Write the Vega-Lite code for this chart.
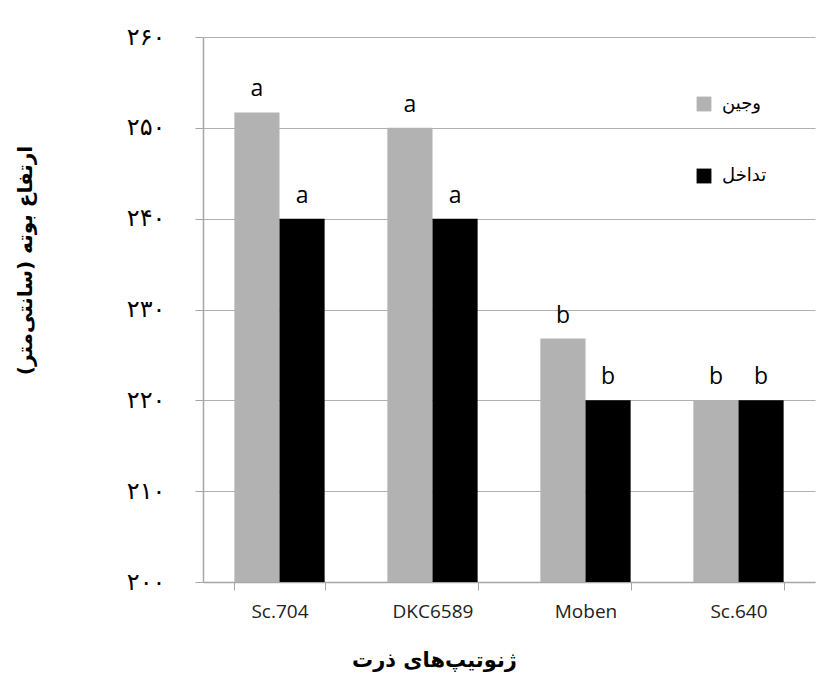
{
  "$schema": "https://vega.github.io/schema/vega-lite/v6.json",
  "autosize": {"type": "none"},
  "padding": {"left": 203, "top": 37, "right": 2, "bottom": 115},
  "width": 612,
  "height": 545,
  "background": "white",
  "config": {"view": {"stroke": null}},
  "data": {
    "values": [
      {"genotype": "Sc.704", "treatment": "وجین", "height": 251.7, "letter": "a"},
      {"genotype": "Sc.704", "treatment": "تداخل", "height": 240, "letter": "a"},
      {"genotype": "DKC6589", "treatment": "وجین", "height": 250, "letter": "a"},
      {"genotype": "DKC6589", "treatment": "تداخل", "height": 240, "letter": "a"},
      {"genotype": "Moben", "treatment": "وجین", "height": 226.8, "letter": "b"},
      {"genotype": "Moben", "treatment": "تداخل", "height": 220, "letter": "b"},
      {"genotype": "Sc.640", "treatment": "وجین", "height": 220, "letter": "b"},
      {"genotype": "Sc.640", "treatment": "تداخل", "height": 220, "letter": "b"}
    ]
  },
  "encoding": {
    "x": {
      "field": "genotype",
      "type": "nominal",
      "sort": ["Sc.704", "DKC6589", "Moben", "Sc.640"],
      "scale": {"paddingInner": 0.41, "paddingOuter": 0.205},
      "axis": {
        "title": "ژنوتیپ‌های ذرت",
        "titleFont": "DejaVu Sans",
        "titleFontSize": 21,
        "titleFontWeight": "bold",
        "titleColor": "black",
        "titleX": 231,
        "titleY": 78,
        "titleBaseline": "middle",
        "titleAlign": "center",
        "labelAngle": 0,
        "labelFont": "Open Sans",
        "labelFontSize": 19,
        "labelColor": "#222222",
        "labelPadding": 12,
        "tickBand": "extent",
        "tickSize": 8,
        "tickColor": "#a6a6a6",
        "domainColor": "#a6a6a6",
        "domainWidth": 1.5,
        "grid": false
      }
    },
    "xOffset": {
      "field": "treatment",
      "type": "nominal",
      "sort": ["وجین", "تداخل"],
      "scale": {"paddingInner": 0, "paddingOuter": 0}
    },
    "y": {
      "field": "height",
      "type": "quantitative",
      "scale": {"domain": [200, 260], "nice": false, "zero": false},
      "axis": {
        "values": [200, 210, 220, 230, 240, 250, 260],
        "labelExpr": "datum.value == 200 ? '۲۰۰' : datum.value == 210 ? '۲۱۰' : datum.value == 220 ? '۲۲۰' : datum.value == 230 ? '۲۳۰' : datum.value == 240 ? '۲۴۰' : datum.value == 250 ? '۲۵۰' : '۲۶۰'",
        "labelFont": "DejaVu Sans",
        "labelFontSize": 24,
        "labelColor": "black",
        "labelPadding": 30,
        "tickSize": 8,
        "tickColor": "#a6a6a6",
        "domainColor": "#a6a6a6",
        "domainWidth": 1.5,
        "gridColor": "#b0b0b0",
        "gridWidth": 1.2,
        "title": "ارتفاع بوته (سانتی‌متر)",
        "titleFont": "DejaVu Sans",
        "titleFontSize": 20,
        "titleFontWeight": "bold",
        "titleColor": "black",
        "titleAngle": -90,
        "titleX": -178,
        "titleY": 223,
        "titleAlign": "center",
        "titleBaseline": "middle"
      }
    }
  },
  "layer": [
    {
      "mark": {"type": "bar"},
      "encoding": {
        "y2": {"datum": 200},
        "color": {
          "field": "treatment",
          "type": "nominal",
          "sort": ["وجین", "تداخل"],
          "scale": {"domain": ["وجین", "تداخل"], "range": ["#b2b2b2", "#000000"]},
          "legend": {
            "title": null,
            "orient": "none",
            "legendX": 492,
            "legendY": 58,
            "direction": "vertical",
            "symbolType": "square",
            "symbolSize": 220,
            "symbolStrokeWidth": 0,
            "rowPadding": 54,
            "labelFont": "DejaVu Sans",
            "labelFontSize": 18,
            "labelColor": "black",
            "labelOffset": 9
          }
        }
      }
    },
    {
      "mark": {"type": "text", "baseline": "alphabetic", "dy": -16, "font": "Open Sans", "fontSize": 23, "color": "black"},
      "encoding": {
        "text": {"field": "letter"}
      }
    }
  ]
}
